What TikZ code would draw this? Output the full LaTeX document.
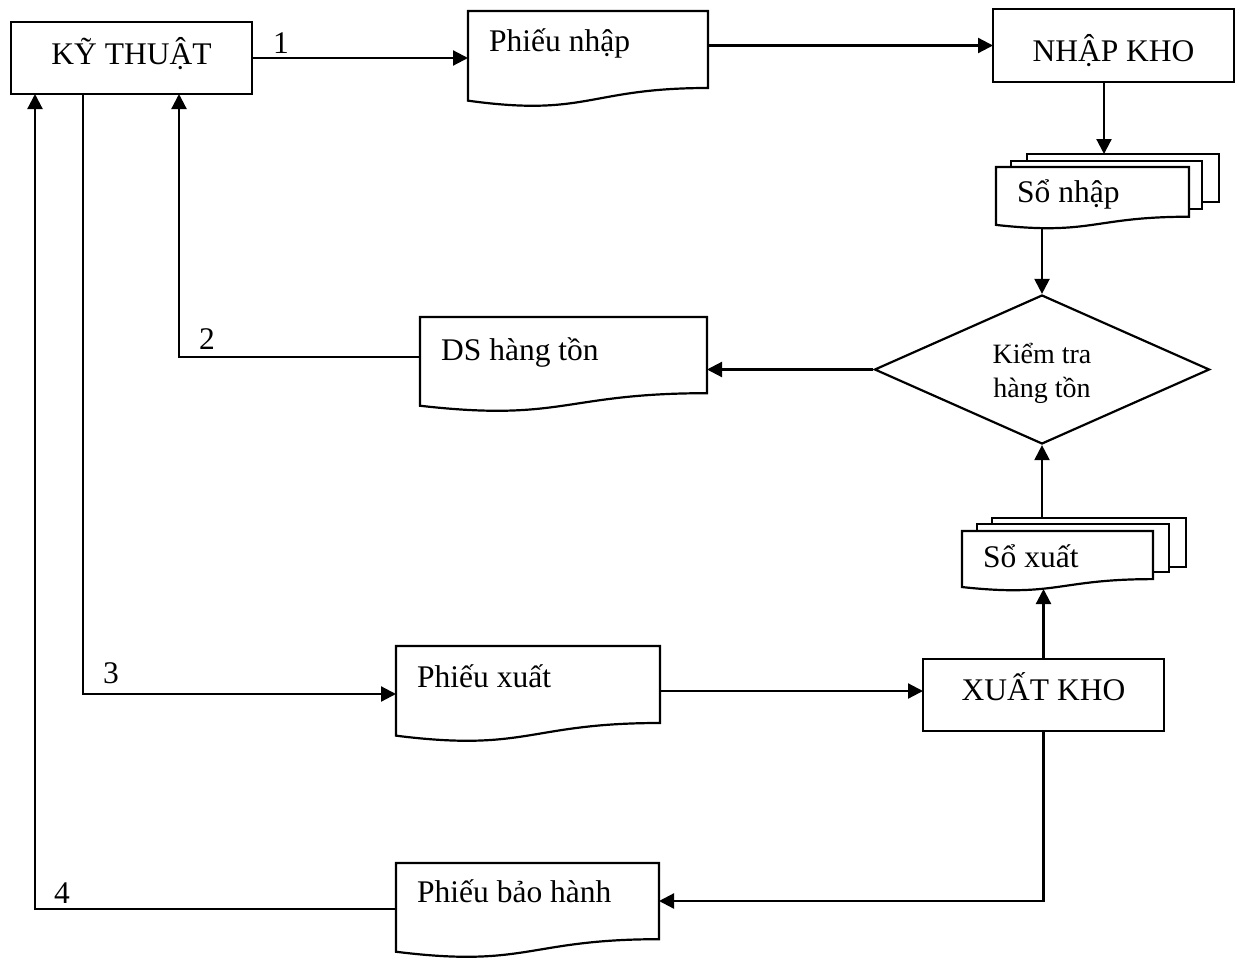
\documentclass[tikz,border=0pt]{standalone}
\usepackage{fontspec}
\setmainfont{Liberation Serif}
\usetikzlibrary{arrows.meta,shapes.geometric,calc}

% document symbol with a wavy bottom edge, drawn around a named frame node
\newcommand\drawdoc[1]{%
  \draw[outline] (#1.north west) -- (#1.north east)
    -- ($(#1.north east)!0.802!(#1.south east)$)
    .. controls ($(#1.north)!0.802!(#1.south)$) and ($(#1.north)!1.107!(#1.south)$)
    .. ($(#1.north west)!0.934!(#1.south west)$) -- cycle;}

\begin{document}
\begin{tikzpicture}[x=1pt,y=-1pt,
  outline/.style={draw,line width=2.2pt,fill=white},
  frame/.style={rectangle,inner sep=0pt,outer sep=0pt},
  box/.style={frame,draw,line width=2.2pt,fill=white,minimum width=241pt,minimum height=72pt},
  page/.style={frame,draw,line width=2.2pt,fill=white},
  conn/.style={line width=2.2pt},
  arr/.style={conn,-{Triangle[length=15pt,width=15pt]}},
  txt/.style={font=\fontsize{31.5}{36}\selectfont,inner sep=0pt},
  doctxt/.style={txt,anchor=base west},
  boxtxt/.style={txt,anchor=base},
  num/.style={txt,anchor=base},
]
\useasboundingbox (0,0) rectangle (1242,958);

% process boxes
\node[box] (kt) at (131.5,58) {};
\node[box,minimum height=73pt] (nk) at (1113.5,45.5) {};
\node[box] (xk) at (1043.5,695) {};

% decision
\node[diamond,draw,line width=2.2pt,fill=white,inner sep=0pt,minimum width=335pt,minimum height=149pt] (dm) at (1042,369.5) {};

% document frames
\node[frame,minimum width=240pt,minimum height=96pt] (pn) at (588,59) {};
\node[frame,minimum width=287pt,minimum height=95pt] (ds) at (563.5,364.5) {};
\node[frame,minimum width=264pt,minimum height=96pt] (px) at (528,694) {};
\node[frame,minimum width=263pt,minimum height=95pt] (pb) at (527.5,910.5) {};

% stacked ledgers: back pages, then the front document
\node[page,minimum width=192pt,minimum height=48pt] (snb) at (1123,178) {};
\node[page,minimum width=191pt,minimum height=48pt] (snm) at (1106.5,185) {};
\node[frame,minimum width=193pt,minimum height=62pt] (sn) at (1092.5,198) {};
\node[page,minimum width=194pt,minimum height=49pt] (sxb) at (1089,542.5) {};
\node[page,minimum width=192pt,minimum height=48pt] (sxm) at (1073,548) {};
\node[frame,minimum width=191pt,minimum height=60pt] (sx) at (1057.5,561) {};

\drawdoc{pn}
\drawdoc{ds}
\drawdoc{px}
\drawdoc{pb}
\drawdoc{sn}
\drawdoc{sx}

% connection points under the KY THUAT box
\coordinate (k4) at ($(kt.south west)+(24,0)$);
\coordinate (k3) at ($(kt.south west)+(72,0)$);
\coordinate (k2) at ($(kt.south west)+(168,0)$);

% connectors
\draw[arr] (kt.east) -- (kt.east -| pn.west);
\draw[arr] (pn.east |- nk.west) -- (nk.west);
\draw[arr] ($(nk.south)+(-9.5,0)$) -- ($(nk.south |- snb.north)+(-9.5,0)$);
\draw[arr] ($(dm.north |- sn.south)+(0,-1)$) -- (dm.north);
\draw[arr] (dm.west) -- (dm.west -| ds.east);
\draw[arr] ($(ds.west)+(0,-7.5)$) -| (k2);
\draw[arr] (k3) |- (px.west);
\draw[arr] ($(px.east)+(0,-3)$) -- ($(px.east -| xk.west)+(0,-3)$);
\draw[arr] (xk.north) -- ($(xk.north |- sx.south)+(0,-2)$);
\draw[arr] (dm.south |- sxb.north) -- (dm.south);
\draw[arr] (xk.south) |- ($(pb.east)+(0,-9.5)$);
\draw[arr] ($(pb.west)+(0,-1.5)$) -| (k4);

% texts
\node[boxtxt] (ktT) at (131.5,64) {KỸ THUẬT};
\node[boxtxt] (nkT) at (1113.5,62) {NHẬP KHO};
\node[boxtxt] (xkT) at (1043.5,700) {XUẤT KHO};
\node[font=\fontsize{28}{34}\selectfont,align=center,inner sep=0pt] (dmT) at (1042,373) {Kiểm tra\\hàng tồn};
\node[doctxt] (pnT) at (489,52) {Phiếu nhập};
\node[doctxt] (dsT) at (441,360) {DS hàng tồn};
\node[doctxt] (pxT) at (417,687) {Phiếu xuất};
\node[doctxt] (pbT) at (417,902) {Phiếu bảo hành};
\node[doctxt] (snT) at (1017,202) {Sổ nhập};
\node[doctxt] (sxT) at (983,567) {Sổ xuất};

% flow numbers
\node[num] (n1) at (281,53) {1};
\node[num] (n2) at (207,349) {2};
\node[num] (n3) at (111,683) {3};
\node[num] (n4) at (62,903) {4};
\end{tikzpicture}
\end{document}
